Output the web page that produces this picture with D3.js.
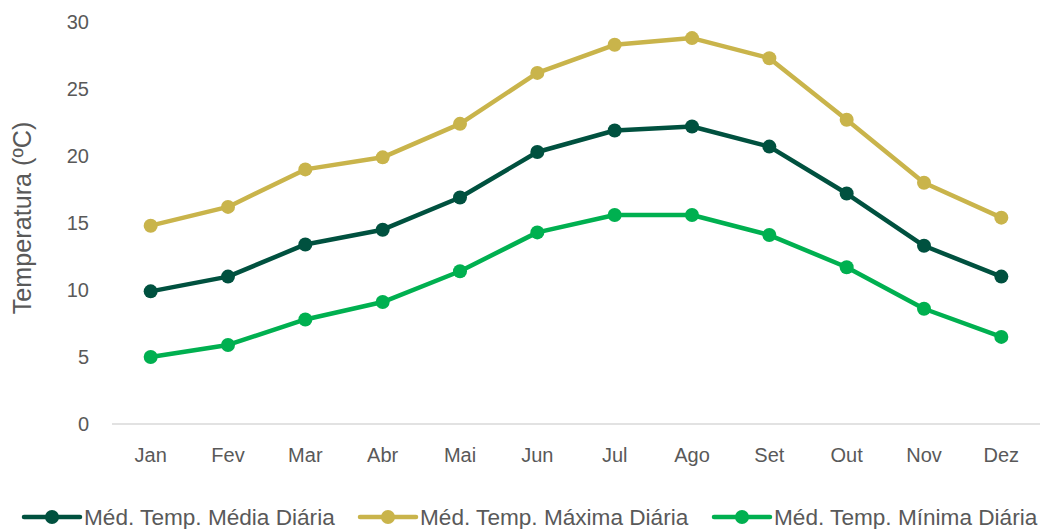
<!DOCTYPE html>
<html><head><meta charset="utf-8">
<script src="https://cdn.jsdelivr.net/npm/d3@7"></script>
<style>body{margin:0;background:#fff}svg{display:block}text{font-family:"Liberation Sans",Arial,sans-serif;fill:#595959}</style>
</head><body>
<svg id="c" width="1044" height="529"></svg>
<script>
const months = ["Jan","Fev","Mar","Abr","Mai","Jun","Jul","Ago","Set","Out","Nov","Dez"];
const mediaDiaria = [9.9,11.0,13.4,14.5,16.9,20.3,21.9,22.2,20.7,17.2,13.3,11.0];
const maximaDiaria = [14.8,16.2,19.0,19.9,22.4,26.2,28.3,28.8,27.3,22.7,18.0,15.4];
const minimaDiaria = [5.0,5.9,7.8,9.1,11.4,14.3,15.6,15.6,14.1,11.7,8.6,6.5];
const yTicks = [0,5,10,15,20,25,30];
const seriesNames = ["Méd. Temp. Média Diária","Méd. Temp. Máxima Diária","Méd. Temp. Mínima Diária"];
const colors = ["#00513F","#C9B44B","#00B050"];

const svg = d3.select("#c");
const x = d3.scaleBand().domain(months).range([112,1040]);
const y = d3.scaleLinear().domain([0,30]).range([424,22]);

svg.append("g").selectAll("text").data(yTicks).join("text")
  .attr("x",89).attr("y",d=>y(d)+7).attr("text-anchor","end")
  .attr("font-size",20).text(d=>d);
svg.append("line").attr("x1",112).attr("x2",1040).attr("y1",y(0)).attr("y2",y(0))
  .attr("stroke","#d9d9d9").attr("stroke-width",1.3);
svg.append("g").selectAll("text").data(months).join("text")
  .attr("x",d=>x(d)+x.bandwidth()/2).attr("y",462).attr("text-anchor","middle")
  .attr("font-size",20).text(d=>d);
svg.append("text").attr("transform","translate(31,218) rotate(-90)").attr("text-anchor","middle")
  .attr("font-size",25.2).text("Temperatura (ºC)");

const data = [mediaDiaria, maximaDiaria, minimaDiaria];
const line = d3.line().x((d,i)=>x(months[i])+x.bandwidth()/2).y(d=>y(d));
data.forEach((s,k)=>{
  const g = svg.append("g");
  g.append("path").attr("d",line(s)).attr("fill","none").attr("stroke",colors[k])
    .attr("stroke-width",4.5).attr("stroke-linejoin","round");
  g.selectAll("circle").data(s).join("circle")
    .attr("cx",(d,i)=>x(months[i])+x.bandwidth()/2).attr("cy",d=>y(d)).attr("r",7).attr("fill",colors[k]);
});

const legX = [24,360,714];
const legY = 517;
seriesNames.forEach((n,k)=>{
  const g = svg.append("g").attr("transform",`translate(${legX[k]},${legY})`);
  g.append("line").attr("x1",0).attr("x2",56).attr("y1",0).attr("y2",0)
    .attr("stroke",colors[k]).attr("stroke-width",4.5).attr("stroke-linecap","round");
  g.append("circle").attr("cx",28).attr("cy",0).attr("r",7).attr("fill",colors[k]);
  g.append("text").attr("x",60).attr("y",7.5).attr("font-size",22.6).text(n);
});
</script>
</body></html>
